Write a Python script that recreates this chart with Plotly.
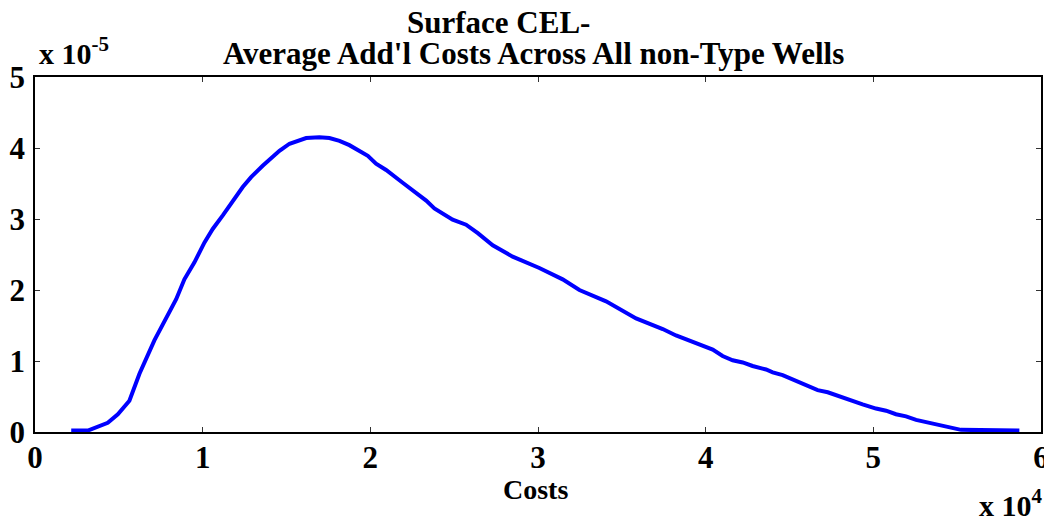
import plotly.graph_objects as go

# Costs in units of 10^4, density in units of 10^-5 (as displayed on the axes)
costs_e4 = [0.216, 0.315, 0.434, 0.494, 0.563, 0.623, 0.712, 0.772, 0.842, 0.891,
            0.951, 1.011, 1.060, 1.120, 1.180, 1.239, 1.289, 1.358, 1.458, 1.518,
            1.617, 1.696, 1.756, 1.816, 1.875, 1.985, 2.034, 2.094, 2.193, 2.263,
            2.333, 2.382, 2.491, 2.571, 2.641, 2.730, 2.849, 3.008, 3.088, 3.147,
            3.247, 3.406, 3.585, 3.744, 3.823, 4.042, 4.101, 4.161, 4.221, 4.280,
            4.360, 4.400, 4.459, 4.559, 4.668, 4.728, 4.797, 4.847, 4.936, 5.016,
            5.076, 5.135, 5.195, 5.255, 5.354, 5.433, 5.523, 5.871]
density_e5 = [0.02, 0.02, 0.13, 0.25, 0.44, 0.82, 1.29, 1.57, 1.87, 2.15,
              2.39, 2.67, 2.86, 3.05, 3.26, 3.45, 3.59, 3.75, 3.96, 4.06,
              4.14, 4.15, 4.14, 4.10, 4.04, 3.89, 3.78, 3.69, 3.51, 3.38,
              3.26, 3.15, 2.99, 2.92, 2.80, 2.63, 2.47, 2.31, 2.21, 2.15,
              2.00, 1.84, 1.60, 1.45, 1.36, 1.16, 1.07, 1.01, 0.98, 0.93,
              0.88, 0.84, 0.80, 0.70, 0.59, 0.56, 0.50, 0.47, 0.39, 0.33,
              0.30, 0.25, 0.22, 0.17, 0.12, 0.08, 0.03, 0.02]
x_ticks = [0, 1, 2, 3, 4, 5, 6]
y_ticks = [0, 1, 2, 3, 4, 5]

title_line1 = "Surface CEL-"
title_line2 = "Average Add'l Costs Across All non-Type Wells"
x_label = "Costs"

FONT = "Liberation Serif"

fig = go.Figure()
fig.add_trace(go.Scatter(x=costs_e4, y=density_e5, mode="lines",
                         line=dict(color="#0000FF", width=4), showlegend=False))

axis_common = dict(showline=True, linecolor="black", linewidth=1.5, mirror="ticks",
                   ticks="inside", ticklen=5, tickwidth=1, tickcolor="#333333",
                   showgrid=False, zeroline=False, automargin=False,
                   ticklabeloverflow="allow",
                   tickfont=dict(family=FONT, size=31, color="black", weight="bold"))

fig.update_xaxes(range=[0, 6], tickvals=x_ticks, ticktext=[str(v) for v in x_ticks],
                 ticklabelstandoff=-3, **axis_common)
fig.update_yaxes(range=[0, 5], tickvals=y_ticks, ticktext=[str(v) for v in y_ticks],
                 ticklabelstandoff=2, **axis_common)

ann_font = dict(family=FONT, color="black", weight="bold")
# page body has an 8px margin, so the figure is offset by 8px inside the window
fig.update_layout(
    width=1044, height=509,
    margin=dict(l=27, r=11, t=69, b=85, autoexpand=False),
    plot_bgcolor="white", paper_bgcolor="white",
    annotations=[
        dict(text=title_line1, xref="paper", yref="paper", x=0.461, y=1.153,
             xanchor="center", yanchor="middle", showarrow=False,
             font=dict(size=31, **ann_font)),
        dict(text=title_line2, xref="paper", yref="paper", x=0.4955, y=1.066,
             xanchor="center", yanchor="middle", showarrow=False,
             font=dict(size=31, **ann_font)),
        dict(text=x_label, xref="paper", yref="paper", x=0.4975, y=-0.163,
             xanchor="center", yanchor="middle", showarrow=False,
             font=dict(size=28, **ann_font)),
        dict(text="x 10<sup>-5</sup>", xref="paper", yref="paper", x=0.002, y=1.072,
             xanchor="left", yanchor="middle", showarrow=False,
             font=dict(size=30, **ann_font)),
        dict(text="x 10<sup>4</sup>", xref="paper", yref="paper", x=1.004, y=-0.2,
             xanchor="right", yanchor="middle", showarrow=False,
             font=dict(size=30, **ann_font)),
    ],
)

fig.write_html("out.html")
